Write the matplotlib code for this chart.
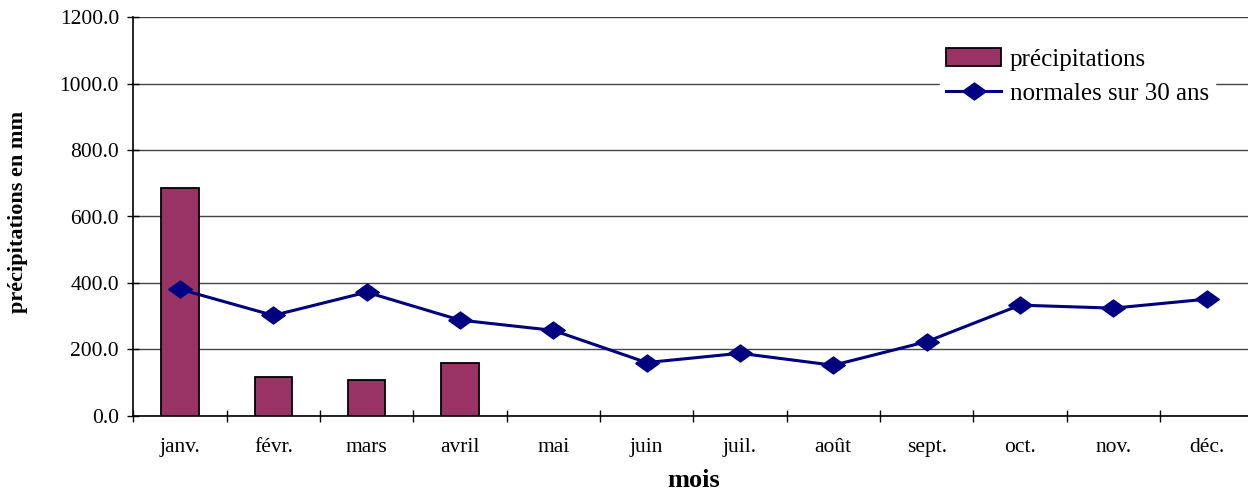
import matplotlib
matplotlib.use("Agg")
import matplotlib.pyplot as plt
import numpy as np

# monthly data (mm)
mois = ["janv.", "févr.", "mars", "avril", "mai", "juin",
        "juil.", "août", "sept.", "oct.", "nov.", "déc."]
precipitations = [686, 116, 107, 160]
normales = [381, 302, 372, 288, 257, 160, 188, 152, 223, 333, 324, 351]

plt.rcParams["font.family"] = ["Liberation Serif", "DejaVu Serif"]

fig = plt.figure(figsize=(12.48, 4.93), dpi=100)
ax = fig.add_axes([133.3 / 1248, 77.3 / 493, 1120 / 1248, 398.4 / 493])

x = np.arange(len(mois))
bars = ax.bar(x[:len(precipitations)], precipitations, width=0.40, color="#993366",
              edgecolor="black", linewidth=1.3, label="précipitations", zorder=3)

# diamond marker slightly wider than tall
diamond = [(-1, 0), (0, 0.72), (1, 0), (0, -0.72), (-1, 0)]
line, = ax.plot(x, normales, color="#000080", linewidth=2.2, marker=diamond,
                markersize=17, markerfacecolor="#000080", markeredgecolor="#000080",
                label="normales sur 30 ans", zorder=4)

ax.set_xlim(-0.5, len(mois) - 0.5)
ax.set_ylim(0, 1200)
ax.set_yticks(np.arange(0, 1201, 200))
ax.set_yticklabels([f"{v:.1f}" for v in np.arange(0, 1201, 200)])
ax.set_xticks(x)
ax.set_xticklabels(mois)
ax.set_xticks(np.arange(-0.5, len(mois), 1), minor=True)

ax.tick_params(axis="y", direction="inout", length=8.6, width=1, pad=6, labelsize=15.5)
ax.tick_params(axis="x", which="major", length=0, pad=16, labelsize=15.5)
ax.tick_params(axis="x", which="minor", direction="inout", length=8.6, width=1)

ax.grid(axis="y", color="#444444", linewidth=1, zorder=0)
ax.set_axisbelow(True)
for side in ["top", "right"]:
    ax.spines[side].set_visible(False)
ax.spines["left"].set_linewidth(1.2)
ax.spines["bottom"].set_linewidth(1.2)

ax.set_xlabel("mois", fontsize=19, fontweight="bold", labelpad=9)
fig.text(18 / 1248, 1 - 212 / 493, "précipitations en mm", rotation=90,
         ha="center", va="center", fontsize=16, fontweight="bold")

leg = ax.legend(handles=[bars, line], loc="upper left",
                bbox_to_anchor=(940 / 1248, 1 - 42 / 493),
                bbox_transform=fig.transFigure, fontsize=18, frameon=True,
                handlelength=2.2, handletextpad=0.35, labelspacing=0.45,
                borderpad=0.25, borderaxespad=0, fancybox=False)
leg.get_frame().set_edgecolor("white")
leg.get_frame().set_facecolor("white")
leg.get_frame().set_alpha(1)

fig.savefig("out.png", dpi=100)
